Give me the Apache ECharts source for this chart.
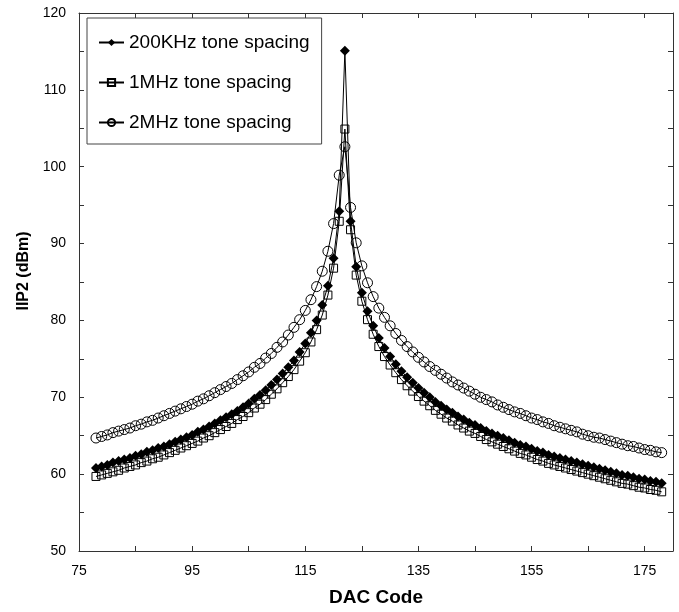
<!DOCTYPE html>
<html>
<head>
<meta charset="utf-8">
<script src="https://cdn.jsdelivr.net/npm/echarts@6/dist/echarts.min.js"></script>
<style>
html,body{margin:0;padding:0;background:#fff;}
#chart{width:679px;height:612px;}
</style>
</head>
<body>
<div id="chart"></div>
<script>
// DAC codes (x values)
const dacCodes = [78,79,80,81,82,83,84,85,86,87,88,89,90,91,92,93,94,95,96,97,98,99,100,101,102,103,104,105,106,107,108,109,110,111,112,113,114,115,116,117,118,119,120,121,122,123,124,125,126,127,128,129,130,131,132,133,134,135,136,137,138,139,140,141,142,143,144,145,146,147,148,149,150,151,152,153,154,155,156,157,158,159,160,161,162,163,164,165,166,167,168,169,170,171,172,173,174,175,176,177,178];

const seriesNames = ['200KHz tone spacing', '1MHz tone spacing', '2MHz tone spacing'];

const iip2_200k = [60.8,61.0,61.2,61.5,61.7,61.9,62.1,62.4,62.6,62.9,63.1,63.4,63.6,63.9,64.2,64.5,64.8,65.1,65.5,65.8,66.2,66.6,67.0,67.4,67.8,68.2,68.7,69.2,69.8,70.3,70.9,71.6,72.3,73.1,73.9,74.8,75.9,77.0,78.4,80.0,82.0,84.5,88.1,94.2,
  115.1,
  92.9,87.0,83.6,81.2,79.3,77.7,76.4,75.3,74.3,73.4,72.6,71.9,71.2,70.6,70.0,69.4,68.9,68.4,68.0,67.5,67.1,66.7,66.4,66.0,65.6,65.3,65.0,64.7,64.4,64.1,63.8,63.6,63.3,63.0,62.8,62.5,62.3,62.1,61.9,61.7,61.5,61.3,61.1,60.9,60.7,60.5,60.3,60.1,59.9,59.8,59.6,59.4,59.3,59.1,59.0,58.8];

const iip2_1m = [59.7,59.9,60.1,60.3,60.5,60.8,61.0,61.2,61.5,61.7,62.0,62.2,62.5,62.8,63.1,63.4,63.7,64.0,64.3,64.7,65.0,65.4,65.8,66.2,66.6,67.1,67.5,68.0,68.6,69.1,69.7,70.4,71.1,71.9,72.7,73.6,74.7,75.8,77.2,78.8,80.7,83.3,86.8,92.9,
  104.9,
  91.8,85.9,82.5,80.1,78.2,76.6,75.3,74.2,73.2,72.3,71.5,70.8,70.1,69.5,68.9,68.3,67.8,67.3,66.9,66.4,66.0,65.6,65.3,64.9,64.5,64.2,63.9,63.6,63.3,63.0,62.7,62.5,62.2,61.9,61.7,61.4,61.2,61.0,60.8,60.6,60.4,60.2,60.0,59.8,59.6,59.4,59.2,59.0,58.8,58.7,58.5,58.3,58.2,58.0,57.9,57.7];

const iip2_2m = [64.7,64.9,65.1,65.4,65.6,65.8,66.0,66.3,66.5,66.8,67.0,67.3,67.6,67.9,68.2,68.5,68.8,69.1,69.5,69.8,70.2,70.6,71.0,71.4,71.8,72.3,72.8,73.3,73.9,74.4,75.1,75.7,76.5,77.2,78.1,79.1,80.1,81.3,82.7,84.4,86.4,89.0,92.6,98.9,
  102.6,
  94.7,90.1,87.1,84.9,83.1,81.6,80.4,79.3,78.3,77.4,76.6,75.9,75.2,74.6,74.0,73.5,73.0,72.5,72.0,71.6,71.2,70.8,70.4,70.0,69.7,69.4,69.0,68.7,68.4,68.1,67.9,67.6,67.3,67.1,66.8,66.6,66.3,66.1,65.9,65.7,65.5,65.2,65.0,64.8,64.7,64.5,64.3,64.1,63.9,63.7,63.6,63.4,63.2,63.1,62.9,62.8];

const xTickLabels = [75, 95, 115, 135, 155, 175];
const yTickLabels = [50, 60, 70, 80, 90, 100, 110, 120];

const FONT = '"Liberation Sans", Arial, sans-serif';
const pairs = arr => dacCodes.map((x, i) => [x, arr[i]]);

const axisLineStyle = { lineStyle: { color: '#333', width: 1 } };
const tickStyle = { show: true, inside: true, length: 5, lineStyle: { color: '#333', width: 1 } };

const chart = echarts.init(document.getElementById('chart'), null, { renderer: 'canvas' });
chart.setOption({
  animation: false,
  backgroundColor: '#fff',
  grid: { left: 79, top: 13, right: 6, bottom: 60, containLabel: false },
  legend: {
    orient: 'vertical',
    left: 87, top: 18,
    padding: [14, 12, 11, 11],
    itemGap: 19,
    itemWidth: 25, itemHeight: 9,
    backgroundColor: '#fff',
    borderColor: '#444', borderWidth: 1, borderRadius: 0,
    textStyle: { fontFamily: FONT, fontSize: 19, color: '#000', lineHeight: 21 },
    data: seriesNames
  },
  xAxis: [{
    type: 'value', min: 75, max: 180, interval: 10,
    name: 'DAC Code', nameLocation: 'middle', nameGap: 37,
    nameTextStyle: { fontFamily: FONT, fontSize: 19, fontWeight: 'bold', color: '#000' },
    axisLine: axisLineStyle, axisTick: tickStyle, splitLine: { show: false },
    axisLabel: {
      margin: 13, fontFamily: FONT, fontSize: 14, color: '#000',
      formatter: v => (xTickLabels.indexOf(Math.round(v)) >= 0 ? String(Math.round(v)) : '')
    }
  }, {
    type: 'value', position: 'top', min: 75, max: 180, interval: 10,
    axisLine: axisLineStyle, axisTick: tickStyle, axisLabel: { show: false }, splitLine: { show: false }
  }],
  yAxis: [{
    type: 'value', min: 50, max: 120, interval: 5,
    name: 'IIP2 (dBm)', nameLocation: 'middle', nameGap: 45,
    nameTextStyle: { fontFamily: FONT, fontSize: 16, fontWeight: 'bold', color: '#000', padding: [0, 0, 0, 22] },
    axisLine: { show: true, lineStyle: { color: '#333', width: 1 } }, axisTick: tickStyle, splitLine: { show: false },
    axisLabel: {
      margin: 13, fontFamily: FONT, fontSize: 14, color: '#000',
      formatter: v => (yTickLabels.indexOf(Math.round(v)) >= 0 ? String(Math.round(v)) : '')
    }
  }, {
    type: 'value', position: 'right', min: 50, max: 120, interval: 5,
    axisLine: { show: true, lineStyle: { color: '#333', width: 1 } }, axisTick: tickStyle,
    axisLabel: { show: false }, splitLine: { show: false }
  }],
  series: [{
    name: seriesNames[0], type: 'line', data: pairs(iip2_200k),
    symbol: 'diamond', symbolSize: 10,
    lineStyle: { color: '#000', width: 1 },
    itemStyle: { color: '#000', borderColor: '#000', borderWidth: 0 }
  }, {
    name: seriesNames[1], type: 'line', data: pairs(iip2_1m),
    symbol: 'rect', symbolSize: 8,
    lineStyle: { color: '#000', width: 1 },
    itemStyle: { color: 'rgba(255,255,255,0)', borderColor: '#000', borderWidth: 1 }
  }, {
    name: seriesNames[2], type: 'line', data: pairs(iip2_2m),
    symbol: 'circle', symbolSize: 10,
    lineStyle: { color: '#000', width: 1 },
    itemStyle: { color: 'rgba(255,255,255,0)', borderColor: '#000', borderWidth: 1 }
  }]
});
</script>
</body>
</html>
